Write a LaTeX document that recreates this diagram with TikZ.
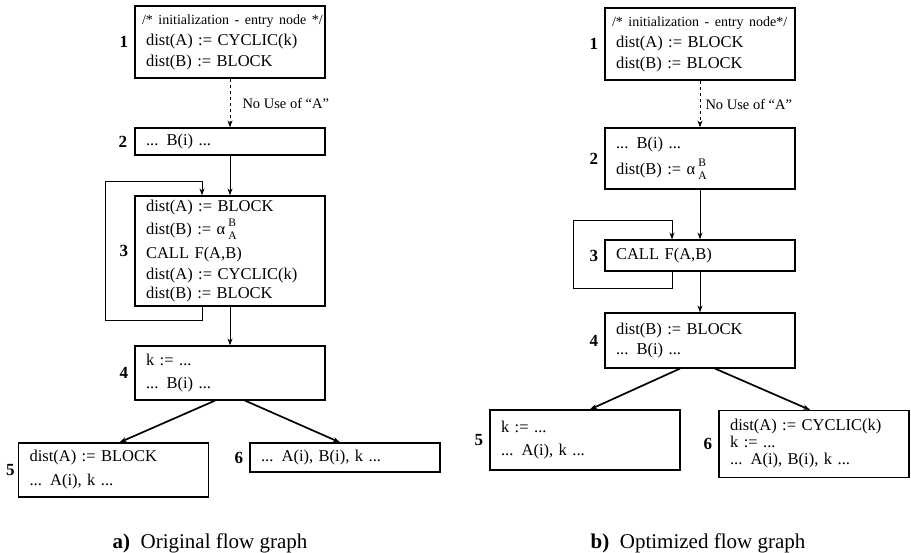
\documentclass[tikz,border=0pt]{standalone}
\usepackage{fontspec}
\setmainfont{Liberation Serif}
\usetikzlibrary{positioning,arrows.meta}

\newcommand{\cmt}[1]{\hspace*{-4pt}\makebox[0pt][l]{\fontsize{14}{17}\selectfont #1}}
\newcommand{\alphaBA}{α\hspace{3pt}\rlap{\raisebox{8pt}{\fontsize{11.5}{12}\selectfont B}}\raisebox{-5pt}{\fontsize{11.5}{12}\selectfont A}}

\tikzset{
  blk/.style={draw, line width=1.2pt, text width=168pt, inner xsep=11pt, inner ysep=3pt,
    align=left, font=\fontsize{16.5}{21}\selectfont},
  num/.style={inner sep=0pt, font=\fontsize{17}{20}\selectfont\bfseries},
  note/.style={inner sep=0pt, font=\fontsize{14.5}{17}\selectfont},
  flow/.style={->, line width=1pt},
  fork/.style={->, line width=1.7pt},
  caption/.style={font=\fontsize{21}{24}\selectfont},
}

\begin{document}
\begin{tikzpicture}[x=1pt,y=-1pt,>={Stealth[length=7pt,width=5pt]}]
  \useasboundingbox (0,0) rectangle (911,553);

  % a) original flow graph
  \node[blk, minimum height=72pt] (a1) at (230,42) {\cmt{/* initialization - entry node */}\\dist(A) := CYCLIC(k)\\dist(B) := BLOCK};
  \node[blk, minimum height=27pt] (a2) at (230,141.5) {... B(i) ...};
  \node[blk, minimum height=110pt] (a3) at (230,251) {dist(A) := BLOCK\\[2pt]dist(B) := \alphaBA\\[3pt]CALL F(A,B)\\dist(A) := CYCLIC(k)\\[-2pt]dist(B) := BLOCK};
  \node[blk, minimum height=54pt] (a4) at (230,373) {k := ...\\[2pt]... B(i) ...};
  \node[blk, minimum height=54pt] (a5) at (113.5,470) {dist(A) := BLOCK\\[3pt]... A(i), k ...};
  \node[blk, minimum height=29pt] (a6) at (345,457.5) {... A(i), B(i), k ...};

  \node[num, left=6pt of a1] (na1) {1};
  \node[num, left=7pt of a2] (na2) {2};
  \node[num, left=6pt of a3] (na3) {3};
  \node[num, left=6pt of a4] (na4) {4};
  \node[num, left=3pt of a5] (na5) {5};
  \node[num, left=6pt of a6] (na6) {6};

  \draw[flow, dashed] (a1) -- node[note, right=12pt] (ua) {No Use of ``A''} (a2);
  \draw[flow] (a2) -- (a3);
  \draw[flow] ([xshift=-28pt]a3.south) -- ++(0,14) -- ++(-97,0)
    |- ([xshift=-28pt,yshift=14pt]a3.north) -- ([xshift=-28pt]a3.north);
  \draw[flow] (a3) -- (a4);
  \draw[fork] ([xshift=-15pt]a4.south) -- ([xshift=6pt]a5.north);
  \draw[fork] ([xshift=15pt]a4.south) -- ([xshift=-5pt]a6.north);

  \node[caption] (capa) at (210,543) {\textbf{a)}\enspace Original flow graph};

  % b) optimized flow graph
  \node[blk, minimum height=72pt] (b1) at (700,44) {\cmt{/* initialization - entry node*/}\\dist(A) := BLOCK\\dist(B) := BLOCK};
  \node[blk, minimum height=61pt] (b2) at (700,158.5) {... B(i) ...\\[5pt]dist(B) := \alphaBA};
  \node[blk, minimum height=31pt] (b3) at (700,255.5) {CALL F(A,B)};
  \node[blk, minimum height=55pt] (b4) at (700,340.5) {dist(B) := BLOCK\\[-1pt]... B(i) ...};
  \node[blk, minimum height=60pt] (b5) at (585,440) {k := ...\\[2pt]... A(i), k ...};
  \node[blk, minimum height=67pt, font=\fontsize{16.5}{17}\selectfont] (b6) at (814,444) {dist(A) := CYCLIC(k)\\k := ...\\... A(i), B(i), k ...};

  \node[num, left=6pt of b1] (nb1) {1};
  \node[num, left=6pt of b2] (nb2) {2};
  \node[num, left=6pt of b3] (nb3) {3};
  \node[num, left=6pt of b4] (nb4) {4};
  \node[num, left=6pt of b5] (nb5) {5};
  \node[num, left=6pt of b6] (nb6) {6};

  \draw[flow, dashed] (b1) -- node[note, right=5pt] (ub) {No Use of ``A''} (b2);
  \draw[flow] (b2) -- (b3);
  \draw[flow] ([xshift=-28pt]b3.south) -- ++(0,17) -- ++(-99,0)
    |- ([xshift=-28pt,yshift=19pt]b3.north) -- ([xshift=-28pt]b3.north);
  \draw[flow] (b3) -- (b4);
  \draw[fork] ([xshift=-20pt]b4.south) -- ([xshift=5pt]b5.north);
  \draw[fork] ([xshift=15pt]b4.south) -- ([xshift=-4pt]b6.north);

  \node[caption] (capb) at (698,543) {\textbf{b)}\enspace Optimized flow graph};
\end{tikzpicture}
\end{document}
